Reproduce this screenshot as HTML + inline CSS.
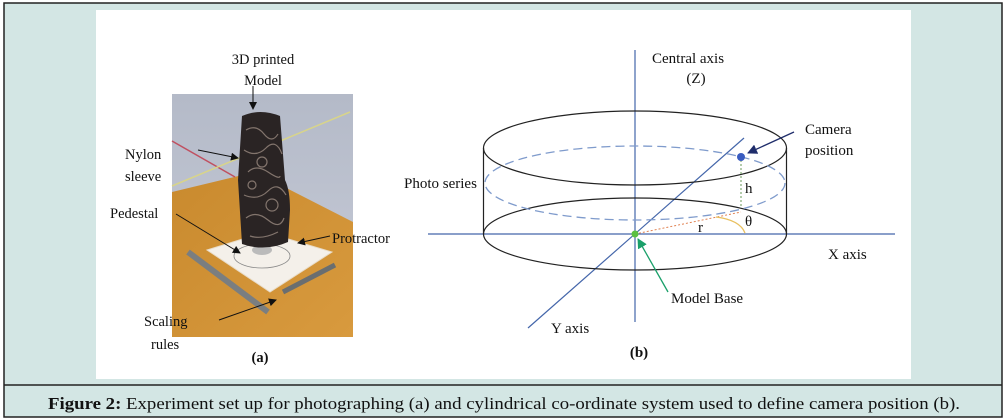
<!DOCTYPE html>
<html><head><meta charset="utf-8"><style>
html,body{margin:0;padding:0;width:1008px;height:419px;overflow:hidden;background:#fff}
svg{display:block}
text{font-family:"Liberation Serif",serif;fill:#111}
</style></head><body>
<svg width="1008" height="419" viewBox="0 0 1008 419" xmlns="http://www.w3.org/2000/svg">
<defs>
<marker id="ab" markerWidth="8" markerHeight="8" refX="7" refY="4" orient="auto" markerUnits="userSpaceOnUse"><path d="M0,0 L8,4 L0,8 z" fill="#111"/></marker>
<marker id="an" markerWidth="10" markerHeight="10" refX="9" refY="5" orient="auto" markerUnits="userSpaceOnUse"><path d="M0,0 L10,5 L0,10 z" fill="#1f2d6b"/></marker>
<marker id="ag" markerWidth="10" markerHeight="10" refX="9" refY="5" orient="auto" markerUnits="userSpaceOnUse"><path d="M0,0 L10,5 L0,10 z" fill="#1aa06a"/></marker>
<linearGradient id="wall" x1="0" y1="0" x2="0" y2="1"><stop offset="0" stop-color="#b4bac8"/><stop offset="1" stop-color="#c8ccd8"/></linearGradient>
<linearGradient id="wood" x1="0" y1="0" x2="1" y2="1"><stop offset="0" stop-color="#c98a2e"/><stop offset="1" stop-color="#d89a3e"/></linearGradient>
</defs>
<rect x="4" y="3" width="998" height="414" fill="#d3e6e4" stroke="#222" stroke-width="1.5"/>
<line x1="4" y1="385" x2="1002" y2="385" stroke="#222" stroke-width="1.5"/>
<rect x="96" y="10" width="815" height="369" fill="#fff"/>

<!-- photo -->
<rect x="172" y="94" width="181" height="243" fill="url(#wall)"/>
<polygon points="172,192 255,172 353,222 353,337 172,337" fill="url(#wood)"/>
<line x1="172" y1="141" x2="235" y2="177" stroke="#c05060" stroke-width="1.5"/>
<line x1="172" y1="186" x2="350" y2="112" stroke="#d8d48a" stroke-width="1.5"/>
<polygon points="207,250 265,232 332,252 270,292" fill="#f4f0ea" stroke="#e8dcc8"/>
<ellipse cx="262" cy="256" rx="28" ry="12" fill="none" stroke="#888" stroke-width="0.8"/>
<ellipse cx="262" cy="250" rx="10" ry="5" fill="#bbb"/>
<line x1="188" y1="252" x2="268" y2="312" stroke="#7a7e80" stroke-width="6"/>
<line x1="283" y1="292" x2="335" y2="265" stroke="#6a6e70" stroke-width="5"/>
<path d="M242,116 Q260,108 280,116 L285,180 Q290,190 290,210 L288,242 Q265,252 242,244 L238,180 Z" fill="#2a2424"/>
<g stroke="#9a8a80" stroke-width="1.2" fill="none" opacity="0.8">
<path d="M246,130 q10,-6 18,4 t14,0"/><path d="M244,150 q12,8 22,-2 t16,6"/><path d="M248,172 q8,-8 20,0 t12,4"/>
<path d="M244,195 q14,6 24,-4 t18,4"/><path d="M246,218 q10,-8 22,2 t16,-2"/><path d="M250,236 q12,4 28,-4"/>
<circle cx="262" cy="162" r="5"/><circle cx="272" cy="205" r="6"/><circle cx="252" cy="185" r="4"/>
</g>

<!-- left labels -->
<g font-size="14.5">
<text x="263" y="64" text-anchor="middle">3D printed</text>
<text x="263" y="85" text-anchor="middle">Model</text>
<text x="125" y="159">Nylon</text>
<text x="125" y="181">sleeve</text>
<text x="110" y="218">Pedestal</text>
<text x="332" y="243">Protractor</text>
<text x="144" y="326">Scaling</text>
<text x="151" y="349">rules</text>
<text x="260" y="362" text-anchor="middle" font-weight="bold">(a)</text>
</g>
<g stroke="#111" stroke-width="1" fill="none">
<line x1="253" y1="86" x2="253" y2="109" marker-end="url(#ab)"/>
<line x1="198" y1="150" x2="238" y2="158" marker-end="url(#ab)"/>
<line x1="176" y1="214" x2="240" y2="253" marker-end="url(#ab)"/>
<line x1="330" y1="236" x2="298" y2="243" marker-end="url(#ab)"/>
<line x1="219" y1="320" x2="276" y2="300" marker-end="url(#ab)"/>
</g>

<!-- diagram b -->
<g fill="none">
<line x1="635" y1="50" x2="635" y2="322" stroke="#4466aa" stroke-width="1.2"/>
<line x1="428" y1="234" x2="895" y2="234" stroke="#4466aa" stroke-width="1.2"/>
<line x1="528" y1="328" x2="744" y2="138" stroke="#4466aa" stroke-width="1.2"/>
<ellipse cx="635" cy="148" rx="151.5" ry="37" stroke="#222" stroke-width="1.2"/>
<ellipse cx="635" cy="234" rx="151.5" ry="36" stroke="#222" stroke-width="1.2"/>
<line x1="483.5" y1="148" x2="483.5" y2="234" stroke="#222" stroke-width="1.2"/>
<line x1="786.5" y1="148" x2="786.5" y2="234" stroke="#222" stroke-width="1.2"/>
<ellipse cx="635" cy="183" rx="150" ry="37" stroke="#7f9bcc" stroke-width="1.3" stroke-dasharray="9,5"/>
<line x1="741" y1="160" x2="741" y2="207" stroke="#6a9a5a" stroke-width="1" stroke-dasharray="2,2"/>
<line x1="635" y1="234" x2="741" y2="212" stroke="#e08050" stroke-width="1" stroke-dasharray="2,2"/>
<path d="M716,217 Q740,220 745,233" stroke="#e8c060" stroke-width="1.3"/>
<line x1="794" y1="132" x2="748" y2="153" stroke="#1f2d6b" stroke-width="1.3" marker-end="url(#an)"/>
<line x1="668" y1="292" x2="638" y2="239" stroke="#1aa06a" stroke-width="1.3" marker-end="url(#ag)"/>
</g>
<circle cx="741" cy="157" r="4" fill="#3a5cc0"/>
<circle cx="635" cy="234" r="3.5" fill="#5ac040"/>
<g font-size="15">
<text x="652" y="63">Central axis</text>
<text x="696" y="83" text-anchor="middle">(Z)</text>
<text x="805" y="134">Camera</text>
<text x="805" y="155">position</text>
<text x="404" y="188">Photo series</text>
<text x="745" y="193">h</text>
<text x="745" y="226">θ</text>
<text x="698" y="232">r</text>
<text x="828" y="259">X axis</text>
<text x="671" y="303">Model Base</text>
<text x="551" y="333">Y axis</text>
<text x="639" y="357" text-anchor="middle" font-weight="bold">(b)</text>
</g>
<text x="48" y="409" font-size="16.5" textLength="912" lengthAdjust="spacingAndGlyphs"><tspan font-weight="bold">Figure 2:</tspan> Experiment set up for photographing (a) and cylindrical co-ordinate system used to define camera position (b).</text>
</svg>
</body></html>
